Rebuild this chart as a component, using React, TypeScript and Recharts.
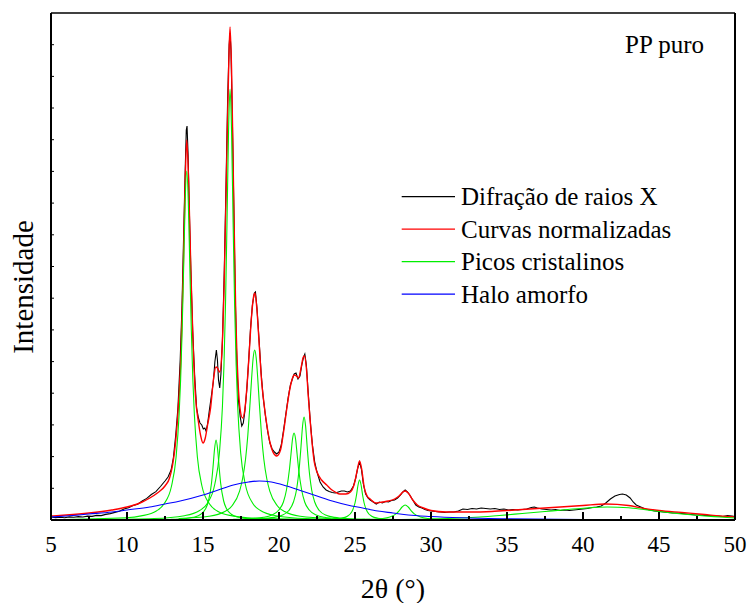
import React from 'react';
import { LineChart, Line, XAxis, YAxis, Legend, Label } from 'recharts';

// values, intensity in arbitrary units (0..507)
const measuredXrd: [number, number][] = [
  [5, 3], [5.3, 2.4], [5.6, 2.8], [5.9, 2.2], [6.2, 3.1], [6.5, 2.7], [6.8, 3.4], [7.1, 3.0], [7.4, 3.9], [7.7, 3.6],
  [8.0, 4.6], [8.3, 4.4], [8.6, 5.6], [8.9, 6.4], [9.2, 7.6], [9.5, 8.8], [9.8, 11], [10.1, 12.2], [10.4, 14.6], [10.7, 15.8],
  [11.0, 19], [11.3, 21.6], [11.6, 25.5], [11.9, 28.4], [12.2, 33.5], [12.5, 39], [12.7, 43], [12.9, 50], [13.05, 62], [13.2, 84],
  [13.35, 112], [13.5, 160], [13.62, 215], [13.72, 280], [13.82, 345], [13.9, 390], [13.95, 394], [14.02, 365], [14.1, 310], [14.2, 250],
  [14.32, 190], [14.45, 145], [14.58, 112], [14.7, 102], [14.8, 97], [14.92, 95], [15.02, 91], [15.12, 92], [15.2, 89], [15.3, 96],
  [15.42, 110], [15.55, 124], [15.68, 138], [15.78, 158], [15.88, 170], [15.95, 160], [16.02, 140], [16.1, 132], [16.18, 146], [16.28, 180],
  [16.4, 250], [16.52, 340], [16.62, 420], [16.72, 475], [16.78, 487], [16.84, 470], [16.92, 410], [17.02, 320], [17.12, 225], [17.22, 160],
  [17.33, 120], [17.45, 103], [17.55, 94], [17.65, 97], [17.75, 108], [17.88, 130], [18.0, 158], [18.12, 190], [18.25, 215], [18.38, 227],
  [18.45, 228], [18.55, 212], [18.68, 182], [18.82, 148], [18.95, 124], [19.1, 105], [19.25, 89], [19.4, 77], [19.55, 71], [19.7, 68],
  [19.85, 66], [20.0, 68], [20.15, 75], [20.3, 90], [20.45, 106], [20.6, 122], [20.75, 135], [20.9, 142], [21.0, 146], [21.12, 147],
  [21.25, 141], [21.38, 144], [21.5, 155], [21.62, 163], [21.7, 166], [21.8, 155], [21.92, 128], [22.05, 100], [22.2, 75], [22.35, 58],
  [22.5, 48], [22.7, 38], [22.9, 33], [23.1, 30], [23.3, 28.5], [23.5, 27.5], [23.7, 27], [23.9, 28], [24.1, 29], [24.3, 29],
  [24.5, 28], [24.7, 29], [24.9, 34], [25.05, 42], [25.18, 52], [25.3, 58], [25.42, 51], [25.55, 36], [25.7, 26], [25.85, 22],
  [26.0, 20], [26.2, 18], [26.4, 16], [26.6, 18], [26.8, 17], [27.0, 18.5], [27.2, 18], [27.4, 19.5], [27.6, 20], [27.8, 22],
  [28.0, 25], [28.15, 28], [28.3, 30], [28.45, 28], [28.6, 25], [28.8, 20], [29.0, 15], [29.2, 13], [29.4, 12], [29.6, 10.5],
  [29.8, 9.5], [30.0, 9], [30.3, 8.5], [30.6, 8], [30.9, 7.5], [31.2, 8], [31.5, 8], [31.8, 9], [32.1, 11], [32.4, 10.5],
  [32.7, 11.5], [33.0, 11], [33.3, 12], [33.6, 11.5], [33.9, 11], [34.2, 11.5], [34.5, 10.5], [34.8, 11], [35.1, 10], [35.4, 10.5],
  [35.7, 10], [36.0, 10.5], [36.3, 11], [36.6, 12.5], [36.8, 13], [37.0, 12], [37.3, 11], [37.6, 10.5], [37.9, 10], [38.2, 10.5],
  [38.5, 9.5], [38.8, 10], [39.1, 9.5], [39.4, 10], [39.7, 10.5], [40.0, 11], [40.3, 11.5], [40.6, 12.5], [40.9, 13], [41.2, 14],
  [41.5, 17], [41.8, 21], [42.1, 24], [42.4, 25.5], [42.6, 26], [42.85, 25], [43.1, 22], [43.3, 18], [43.5, 15], [43.8, 13],
  [44.1, 11], [44.4, 10], [44.7, 9], [45.0, 8.5], [45.3, 8], [45.6, 7.5], [45.9, 7], [46.2, 7], [46.5, 6.5], [46.8, 6],
  [47.1, 5.5], [47.4, 5], [47.7, 5], [48.0, 4.5], [48.3, 4.5], [48.6, 4], [48.9, 4], [49.2, 3.5], [49.5, 4.5], [49.8, 4], [50, 3.5],
];

const fittedCurve: [number, number][] = [
  [5, 4], [6, 5], [7.5, 7], [9, 10], [10, 13], [11, 18], [11.5, 22], [12, 27], [12.5, 34], [12.8, 42],
  [13.0, 55], [13.2, 78], [13.4, 118], [13.55, 165], [13.7, 250], [13.8, 320], [13.93, 380], [14.05, 340], [14.2, 250], [14.35, 175],
  [14.5, 125], [14.7, 98], [14.85, 84], [15.0, 77], [15.15, 82], [15.3, 95], [15.5, 112], [15.7, 142], [15.85, 153], [15.95, 152],
  [16.1, 148], [16.25, 170], [16.4, 240], [16.55, 350], [16.7, 460], [16.78, 493], [16.88, 450], [17.0, 340], [17.15, 210], [17.3, 140],
  [17.45, 110], [17.6, 102], [17.75, 110], [17.9, 135], [18.05, 170], [18.2, 205], [18.35, 225], [18.42, 227], [18.55, 210], [18.7, 175],
  [18.85, 140], [19.0, 118], [19.2, 95], [19.4, 78], [19.6, 68], [19.85, 64], [20.1, 70], [20.3, 88], [20.5, 110], [20.7, 130],
  [20.85, 140], [21.0, 145], [21.15, 144], [21.28, 142], [21.45, 152], [21.6, 163], [21.68, 164], [21.8, 152], [21.93, 123], [22.1, 90],
  [22.32, 58], [22.5, 48], [22.8, 40], [23.14, 35], [23.4, 31], [23.7, 28], [24.0, 26], [24.4, 26], [24.7, 28], [24.95, 36],
  [25.15, 50], [25.3, 59], [25.45, 50], [25.6, 33], [25.8, 24], [26.0, 21], [26.4, 17], [26.8, 18], [27.2, 19], [27.6, 21],
  [27.9, 24], [28.15, 28], [28.3, 29], [28.5, 27], [28.8, 20], [29.1, 15], [29.5, 12], [30.0, 9.5], [31.0, 8], [32.5, 8],
  [34, 8.5], [35.5, 10], [37, 11.5], [38.5, 13], [40, 14.5], [41.5, 16], [43, 14.5], [44, 11.5], [45, 9.5], [46.5, 7.5],
  [48, 5.5], [49, 4], [50, 3],
];

const crystalPeak1: [number, number][] = [
  [5, 0.5], [9.93, 2.3], [10.93, 4.1], [11.93, 9], [12.43, 16], [12.93, 34], [13.23, 63], [13.43, 106], [13.53, 141], [13.63, 191],
  [13.73, 255], [13.83, 320], [13.93, 349], [14.03, 320], [14.13, 255], [14.23, 191], [14.33, 141], [14.43, 106], [14.63, 63], [14.93, 34],
  [15.43, 16], [15.93, 9], [16.93, 4.1], [17.93, 2.3], [22, 0.6],
];
const crystalPeak2: [number, number][] = [
  [8, 0.6], [11.78, 1.5], [13.78, 4.3], [14.78, 9.5], [15.28, 16.6], [15.78, 36], [16.08, 67], [16.28, 114], [16.38, 155], [16.48, 215],
  [16.58, 298], [16.68, 388], [16.78, 431], [16.88, 388], [16.98, 298], [17.08, 215], [17.18, 155], [17.28, 114], [17.48, 67], [17.78, 36],
  [18.28, 16.6], [18.78, 9.5], [19.78, 4.3], [21.78, 1.5], [26, 0.6],
];
const crystalPeak3: [number, number][] = [
  [12.86, 0.7], [13.86, 1.5], [14.36, 2.7], [14.86, 5.8], [15.16, 11], [15.36, 19], [15.56, 37], [15.66, 53], [15.76, 71], [15.86, 80],
  [15.96, 71], [16.06, 53], [16.16, 37], [16.36, 19], [16.56, 11], [16.86, 5.8], [17.36, 2.7], [17.86, 1.5], [18.86, 0.7],
];
const crystalPeak4: [number, number][] = [
  [13.4, 1.4], [15.4, 3.7], [16.4, 8.2], [16.9, 14], [17.4, 28.6], [17.6, 41], [17.8, 61], [17.95, 85], [18.1, 118], [18.2, 142],
  [18.3, 162], [18.4, 170], [18.5, 162], [18.6, 142], [18.7, 118], [18.85, 85], [19.0, 61], [19.2, 41], [19.4, 28.6], [19.9, 14],
  [20.4, 8.2], [21.4, 3.7], [23.4, 1.4],
];
const crystalPeak5: [number, number][] = [
  [16.99, 0.7], [17.99, 1.2], [18.99, 2.7], [19.49, 4.7], [19.99, 10], [20.29, 18], [20.49, 30], [20.69, 51], [20.79, 66], [20.89, 81],
  [20.99, 87], [21.09, 81], [21.19, 66], [21.29, 51], [21.49, 30], [21.69, 18], [21.99, 10], [22.49, 4.7], [22.99, 2.7], [23.99, 1.2], [24.99, 0.7],
];
const crystalPeak6: [number, number][] = [
  [17.65, 0.7], [18.65, 1.2], [19.65, 2.6], [20.15, 4.5], [20.65, 9.5], [20.95, 18], [21.15, 30], [21.35, 55], [21.45, 74], [21.55, 94],
  [21.65, 103], [21.75, 94], [21.85, 74], [21.95, 55], [22.15, 30], [22.35, 18], [22.65, 9.5], [23.15, 4.5], [23.65, 2.6], [24.65, 1.2], [25.65, 0.7],
];
const crystalPeak7: [number, number][] = [
  [22.3, 0.3], [23.3, 0.7], [24.1, 1.8], [24.5, 3.8], [24.8, 8.5], [25.0, 17], [25.1, 25], [25.2, 35], [25.3, 40], [25.4, 35],
  [25.5, 25], [25.6, 17], [25.8, 8.5], [26.1, 3.8], [26.5, 1.8], [27.3, 0.7], [28.3, 0.3],
];
const crystalPeak8: [number, number][] = [
  [24.8, 0.3], [25.8, 0.6], [26.8, 1.5], [27.3, 3], [27.7, 6.1], [27.9, 9.1], [28.1, 13], [28.3, 15], [28.5, 13], [28.7, 9.1],
  [28.9, 6.1], [29.3, 3], [29.8, 1.5], [30.8, 0.6], [31.8, 0.3],
];
const crystalPeak9: [number, number][] = [
  [28, 0.5], [30, 1], [32, 2], [33.2, 3], [34.5, 4.5], [36, 6.5], [37.5, 8.5], [39, 10.5], [40.2, 12], [41.6, 13],
  [43, 12.3], [44, 10.5], [45, 8.5], [46.5, 6], [48, 4], [49, 3], [50, 2],
];

const amorphousHalo: [number, number][] = [
  [5, 3], [6, 4], [7.5, 6], [9, 8], [10, 10], [11.5, 13], [12.5, 16], [13.5, 19], [15, 25], [16, 30],
  [17, 35], [18, 38], [18.7, 39], [19.5, 38], [20.5, 34], [21.5, 29], [22.5, 24], [23.5, 19], [24.5, 15], [25.5, 12],
  [26.5, 9], [27.5, 7], [28.5, 5], [30, 3.5], [32, 2.2], [35, 1.2], [40, 0.5], [45, 0.2], [50, 0],
];

const crystalPeaks = [
  crystalPeak1, crystalPeak2, crystalPeak3, crystalPeak4, crystalPeak5,
  crystalPeak6, crystalPeak7, crystalPeak8, crystalPeak9,
];

const bottomTicks = [5, 7.5, 10, 12.5, 15, 17.5, 20, 22.5, 25, 27.5, 30, 32.5, 35, 37.5, 40, 42.5, 45, 47.5, 50];
const topTicks = [9.5, 14, 18.5, 23, 27.5, 32, 36.5, 41, 45.5];
const leftTicks = [31.7, 63.4, 95.1, 126.8, 158.4, 190.1, 221.8, 253.5, 285.2, 316.9, 348.6, 380.3, 412, 443.6, 475.3];

const legendLabels = ['Difração de raios X', 'Curvas normalizadas', 'Picos cristalinos', 'Halo amorfo'];
const legendColors = ['#000000', '#ff0000', '#00ee00', '#0000ff'];

const SERIF = { fontFamily: '"Liberation Serif", "Times New Roman", Times, "DejaVu Serif", serif' };

const toPoints = (arr: [number, number][]) => arr.map(([x, y]) => ({ x, y }));

const BottomTick = (props: any) => {
  const { x, y, payload } = props;
  const major = payload.value % 5 === 0;
  return (
    <g>
      <line x1={x} x2={x} y1={y} y2={y - (major ? 8 : 4)} stroke="#000" strokeWidth={2} />
      {major && (
        <text x={x} y={y + 32} textAnchor="middle" fontSize={23} style={SERIF} fill="#000">
          {payload.value}
        </text>
      )}
    </g>
  );
};

const TopTick = (props: any) => {
  const { x, y } = props;
  return <line x1={x} x2={x} y1={y} y2={y + 3} stroke="#000" strokeWidth={1} />;
};

const LeftTick = (props: any) => {
  const { x, y } = props;
  return <line x1={x} x2={x + 3} y1={y} y2={y} stroke="#000" strokeWidth={1} />;
};

const renderLegend = () => (
  <svg width={320} height={140}>
    {legendLabels.map((label, i) => (
      <g key={label}>
        <line x1={6.7} x2={60} y1={16.7 + 32.5 * i} y2={16.7 + 32.5 * i} stroke={legendColors[i]} strokeWidth={1.2} />
        <text x={66} y={25 + 32.5 * i} fontSize={25} style={SERIF} fill="#000">
          {label}
        </text>
      </g>
    ))}
  </svg>
);

export default function App() {
  return (
    <div style={{ position: 'absolute', left: 0, top: 0, width: 750, height: 603, background: '#fff', ...SERIF }}>
      <LineChart width={750} height={603} margin={{ top: 0, right: 0, bottom: 0, left: 0 }}>
        <XAxis
          xAxisId="b"
          type="number"
          dataKey="x"
          domain={[5, 50]}
          ticks={bottomTicks}
          interval={0}
          height={83}
          tickSize={0}
          tickMargin={0}
          tick={BottomTick}
          tickLine={false}
          axisLine={{ stroke: '#000', strokeWidth: 2 }}
          allowDataOverflow
        >
          <Label
            content={() => (
              <text x={393} y={598} textAnchor="middle" fontSize={28} style={SERIF} fill="#000">
                2θ (°)
              </text>
            )}
          />
        </XAxis>
        <XAxis
          xAxisId="t"
          orientation="top"
          type="number"
          dataKey="x"
          domain={[5, 50]}
          ticks={topTicks}
          interval={0}
          height={13}
          tickSize={0}
          tickMargin={0}
          tick={TopTick}
          tickLine={false}
          axisLine={{ stroke: '#000', strokeWidth: 1.5 }}
        >
          <Label
            content={() => (
              <text x={625} y={53} fontSize={25} style={SERIF} fill="#000">
                PP puro
              </text>
            )}
          />
        </XAxis>
        <YAxis
          yAxisId="l"
          type="number"
          domain={[0, 507]}
          ticks={leftTicks}
          interval={0}
          width={51}
          tickSize={0}
          tickMargin={0}
          tick={LeftTick}
          tickLine={false}
          axisLine={{ stroke: '#000', strokeWidth: 2 }}
          allowDataOverflow
        >
          <Label
            content={() => (
              <text
                x={33}
                y={287}
                textAnchor="middle"
                fontSize={29}
                style={SERIF}
                fill="#000"
                transform="rotate(-90 33 287)"
              >
                Intensidade
              </text>
            )}
          />
        </YAxis>
        <YAxis
          yAxisId="r"
          orientation="right"
          type="number"
          domain={[0, 507]}
          width={15}
          tick={false}
          tickLine={false}
          axisLine={{ stroke: '#000', strokeWidth: 2 }}
        />
        <Legend
          content={renderLegend}
          layout="horizontal"
          verticalAlign="middle"
          wrapperStyle={{ position: 'absolute', left: 395, top: 180, width: 320, height: 140 }}
        />
        <Line
          xAxisId="b"
          yAxisId="l"
          data={toPoints(measuredXrd)}
          dataKey="y"
          type="linear"
          stroke="#000000"
          strokeWidth={1.1}
          dot={false}
          isAnimationActive={false}
          legendType="none"
        />
        <Line
          xAxisId="b"
          yAxisId="l"
          data={toPoints(fittedCurve)}
          dataKey="y"
          type="monotone"
          stroke="#ff0000"
          strokeWidth={1.4}
          dot={false}
          isAnimationActive={false}
          legendType="none"
        />
        {crystalPeaks.map((peak, i) => (
          <Line
            key={`peak-${i}`}
            xAxisId="b"
            yAxisId="l"
            data={toPoints(peak)}
            dataKey="y"
            type="monotone"
            stroke="#00ee00"
            strokeWidth={1.1}
            dot={false}
            isAnimationActive={false}
            legendType="none"
          />
        ))}
        <Line
          xAxisId="b"
          yAxisId="l"
          data={toPoints(amorphousHalo)}
          dataKey="y"
          type="monotone"
          stroke="#0000ff"
          strokeWidth={1.1}
          dot={false}
          isAnimationActive={false}
          legendType="none"
        />
      </LineChart>
    </div>
  );
}
